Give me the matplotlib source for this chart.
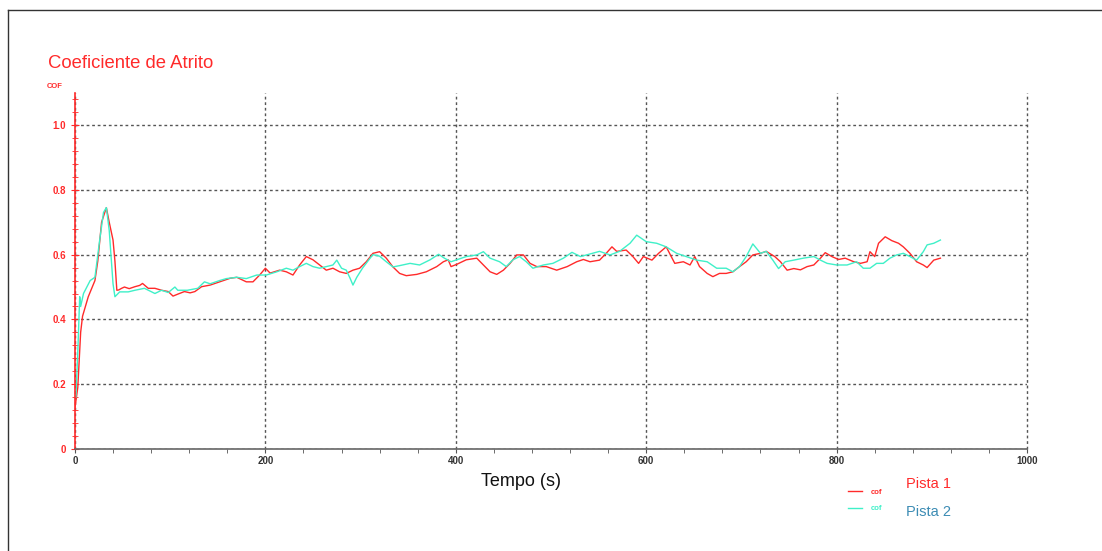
import matplotlib.pyplot as plt
from matplotlib.lines import Line2D
from matplotlib.ticker import MultipleLocator

plt.rcParams["font.family"] = ["Liberation Sans", "DejaVu Sans"]

# Pista 1 (red)
t_p1 = [0, 3, 6, 8, 14, 21, 24, 28, 33, 36, 40, 42, 44, 46, 49, 52, 57, 63, 68, 71, 77, 84, 91, 98,
        103, 108, 115, 121, 126, 133, 142, 152, 163, 170, 180, 187, 194, 200, 205, 215, 222, 229,
        236, 243, 250, 257, 264, 271, 278, 285, 292, 299, 306, 313, 320, 327, 334, 341, 348, 359,
        369, 380, 387, 392, 395, 401, 411, 422, 429, 436, 443, 450, 457, 464, 471, 478, 485, 495,
        506, 517, 527, 534, 541, 551, 558, 564, 569, 579, 586, 592, 597, 606, 613, 621, 630, 639,
        646, 651, 656, 664, 670, 677, 684, 691, 698, 705, 712, 720, 726, 735, 741, 748, 755, 762,
        769, 776, 783, 788, 795, 802, 809, 818, 825, 832, 835, 840, 844, 851, 858, 865, 870, 877,
        884, 891, 895, 902, 909]
cof_p1 = [0.127, 0.19, 0.36, 0.41, 0.47, 0.52, 0.58, 0.70, 0.745, 0.70, 0.645, 0.58, 0.49, 0.491,
          0.496, 0.50, 0.495, 0.501, 0.505, 0.511, 0.496, 0.496, 0.49, 0.486, 0.472, 0.478, 0.486,
          0.482, 0.486, 0.501, 0.506, 0.516, 0.527, 0.53, 0.516, 0.516, 0.537, 0.558, 0.543, 0.552,
          0.547, 0.537, 0.568, 0.594, 0.584, 0.568, 0.552, 0.558, 0.547, 0.542, 0.552, 0.558, 0.578,
          0.604, 0.609, 0.589, 0.562, 0.542, 0.535, 0.539, 0.547, 0.563, 0.578, 0.584, 0.563, 0.57,
          0.584, 0.589, 0.568, 0.547, 0.539, 0.552, 0.573, 0.599, 0.599, 0.573, 0.563, 0.563, 0.552,
          0.563, 0.578, 0.585, 0.578, 0.583, 0.604, 0.624, 0.61, 0.614, 0.594, 0.573, 0.594, 0.583,
          0.604, 0.624, 0.573, 0.578, 0.568, 0.594, 0.563, 0.542, 0.532, 0.542, 0.542, 0.547, 0.563,
          0.578, 0.599, 0.604, 0.61, 0.594, 0.578, 0.552, 0.557, 0.553, 0.563, 0.568, 0.589, 0.606,
          0.594, 0.585, 0.589, 0.578, 0.573, 0.578, 0.609, 0.594, 0.635, 0.655, 0.643, 0.635, 0.624,
          0.604, 0.578, 0.568, 0.56, 0.583, 0.589]

# Pista 2 (cyan)
t_p2 = [1, 3, 5, 6, 9, 16, 21, 26, 30, 33, 36, 40, 42, 47, 56, 63, 73, 84, 91, 98, 105, 108, 118,
        129, 136, 142, 152, 159, 170, 180, 191, 201, 212, 222, 229, 236, 243, 250, 257, 264, 271,
        275, 280, 285, 289, 292, 296, 302, 310, 313, 320, 327, 334, 341, 352, 362, 373, 382, 388,
        395, 401, 411, 422, 429, 436, 446, 453, 460, 467, 474, 481, 492, 502, 513, 522, 531, 541,
        551, 562, 572, 583, 590, 600, 611, 621, 632, 642, 653, 664, 674, 684, 691, 698, 705, 712,
        720, 726, 733, 739, 746, 755, 765, 776, 783, 790, 800, 811, 821, 828, 835, 842, 849, 856,
        863, 870, 877, 884, 891, 895, 902, 909]
cof_p2 = [0.16, 0.30, 0.47, 0.44, 0.48, 0.52, 0.53, 0.645, 0.73, 0.745, 0.675, 0.51, 0.47, 0.485,
          0.485, 0.49, 0.496, 0.48, 0.49, 0.483, 0.50, 0.49, 0.49, 0.496, 0.516, 0.51, 0.52, 0.526,
          0.53, 0.526, 0.537, 0.537, 0.547, 0.558, 0.552, 0.563, 0.573, 0.563, 0.558, 0.563, 0.568,
          0.583, 0.558, 0.552, 0.527, 0.506, 0.53, 0.558, 0.589, 0.60, 0.595, 0.578, 0.562, 0.566,
          0.573, 0.568, 0.584, 0.601, 0.589, 0.578, 0.584, 0.594, 0.599, 0.609, 0.589, 0.578, 0.563,
          0.584, 0.594, 0.578, 0.558, 0.568, 0.573, 0.589, 0.607, 0.594, 0.602, 0.61, 0.599, 0.61,
          0.635, 0.66, 0.64, 0.635, 0.624, 0.604, 0.594, 0.583, 0.578, 0.558, 0.558, 0.547, 0.563,
          0.594, 0.633, 0.604, 0.61, 0.583, 0.557, 0.578, 0.583, 0.589, 0.594, 0.583, 0.573, 0.568,
          0.568, 0.578, 0.558, 0.558, 0.573, 0.573, 0.589, 0.599, 0.604, 0.594, 0.583, 0.609, 0.63,
          0.635, 0.645]

RED = "#ff2a2a"
CYAN = "#3ff0c8"

fig = plt.figure(figsize=(11.02, 5.51), dpi=100)
ax = fig.add_axes([0.068, 0.185, 0.864, 0.647])

ax.plot(t_p1, cof_p1, color=RED, lw=1)
ax.plot(t_p2, cof_p2, color=CYAN, lw=1)

ax.set_xlim(0, 1000)
ax.set_ylim(0, 1.1)
ax.xaxis.set_major_locator(MultipleLocator(200))
ax.xaxis.set_minor_locator(MultipleLocator(40))
ax.yaxis.set_major_locator(MultipleLocator(0.2))
ax.yaxis.set_minor_locator(MultipleLocator(0.04))
ax.set_yticks([0, 0.2, 0.4, 0.6, 0.8, 1.0])
ax.set_yticklabels(["0", "0.2", "0.4", "0.6", "0.8", "1.0"])

ax.grid(True, which="major", color="#555555", linestyle=(0, (2, 2)), lw=1)
for gl in ax.get_xgridlines():
    gl.set_clip_on(False)
for s in ["top", "right"]:
    ax.spines[s].set_visible(False)
ax.spines["left"].set_color(RED)
ax.spines["left"].set_linewidth(1.2)
ax.spines["bottom"].set_color("#666666")
ax.spines["bottom"].set_linewidth(1.2)

ax.tick_params(axis="y", which="both", direction="inout", colors=RED, labelsize=7, length=6)
ax.tick_params(axis="y", which="minor", length=5)
ax.tick_params(axis="x", which="both", direction="out", colors="#555555", labelsize=7, length=3)
ax.tick_params(axis="x", labelcolor="#333333", pad=2)
for lb in ax.get_xticklabels() + ax.get_yticklabels():
    lb.set_fontweight("bold")

fig.text(48 / 1102, 1 - 63 / 551, "Coeficiente de Atrito", color=RED, fontsize=13.3, va="center")
fig.text(47 / 1102, 1 - 86 / 551, "COF", color=RED, fontsize=5.5, fontweight="bold", va="center")
fig.text(521 / 1102, 1 - 481 / 551, "Tempo (s)", color="#111111", fontsize=13, ha="center", va="center")

# legend
fig.add_artist(Line2D([848 / 1102, 862 / 1102], [1 - 491 / 551] * 2, color=RED, lw=1))
fig.add_artist(Line2D([848 / 1102, 862 / 1102], [1 - 508 / 551] * 2, color=CYAN, lw=1))
fig.text(871 / 1102, 1 - 492 / 551, "cof", color=RED, fontsize=5.5, fontweight="bold", va="center")
fig.text(871 / 1102, 1 - 508 / 551, "cof", color=CYAN, fontsize=5.5, fontweight="bold", va="center")
fig.text(906 / 1102, 1 - 484 / 551, "Pista 1", color=RED, fontsize=10.5, va="center")
fig.text(906 / 1102, 1 - 512 / 551, "Pista 2", color="#3c8cb4", fontsize=10.5, va="center")

# frame of the original screenshot
fig.add_artist(Line2D([8 / 1102, 8 / 1102], [0, 1 - 10 / 551], color="#333333", lw=1))
fig.add_artist(Line2D([8 / 1102, 1], [1 - 10 / 551] * 2, color="#333333", lw=1))

fig.savefig("out.png", dpi=100)
